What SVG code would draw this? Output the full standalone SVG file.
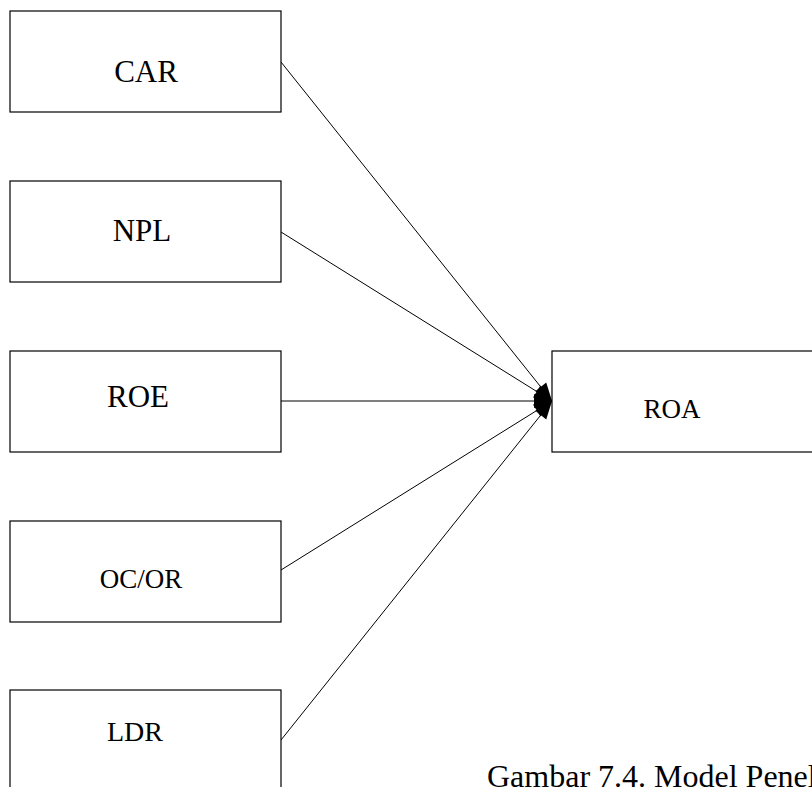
<svg xmlns="http://www.w3.org/2000/svg" width="812" height="787" viewBox="0 0 812 787">
<style>
.box{fill:#fff;stroke:#000;stroke-width:1.2}
.con{stroke:#000;stroke-width:1;fill:none;marker-end:url(#ah)}
.lbl{font-family:"Liberation Serif","Times New Roman",Times,serif;fill:#000;text-anchor:middle}
</style>
<defs>
<marker id="ah" markerUnits="userSpaceOnUse" markerWidth="20" markerHeight="16" refX="18" refY="8" orient="auto" overflow="visible">
<path d="M0,1 L18,8 L0,15 z" fill="#000"/>
</marker>
</defs>
<rect width="812" height="787" fill="#fff"/>
<g id="connectors">
<line class="con" x1="281" y1="62" x2="552" y2="401"/>
<line class="con" x1="281" y1="232" x2="552" y2="401"/>
<line class="con" x1="281" y1="401" x2="552" y2="401"/>
<line class="con" x1="281" y1="570" x2="552" y2="401"/>
<line class="con" x1="281" y1="740" x2="552" y2="401"/>
</g>
<g id="car"><rect class="box" x="10" y="11" width="271" height="101"/><text class="lbl" x="146" y="82" font-size="31">CAR</text></g>
<g id="npl"><rect class="box" x="10" y="181" width="271" height="101"/><text class="lbl" x="142" y="241" font-size="31">NPL</text></g>
<g id="roe"><rect class="box" x="10" y="351" width="271" height="101"/><text class="lbl" x="138" y="407" font-size="31">ROE</text></g>
<g id="ocor"><rect class="box" x="10" y="521" width="271" height="101"/><text class="lbl" x="141" y="588" font-size="27">OC/OR</text></g>
<g id="ldr"><rect class="box" x="10" y="690" width="271" height="110"/><text class="lbl" x="135" y="741" font-size="28">LDR</text></g>
<g id="roa"><rect class="box" x="552" y="351" width="270" height="101"/><text class="lbl" x="672" y="418" font-size="27">ROA</text></g>
<text font-family="Liberation Serif, Times New Roman, serif" x="487" y="787" font-size="32" fill="#000">Gambar 7.4.  Model Penel</text>
</svg>
